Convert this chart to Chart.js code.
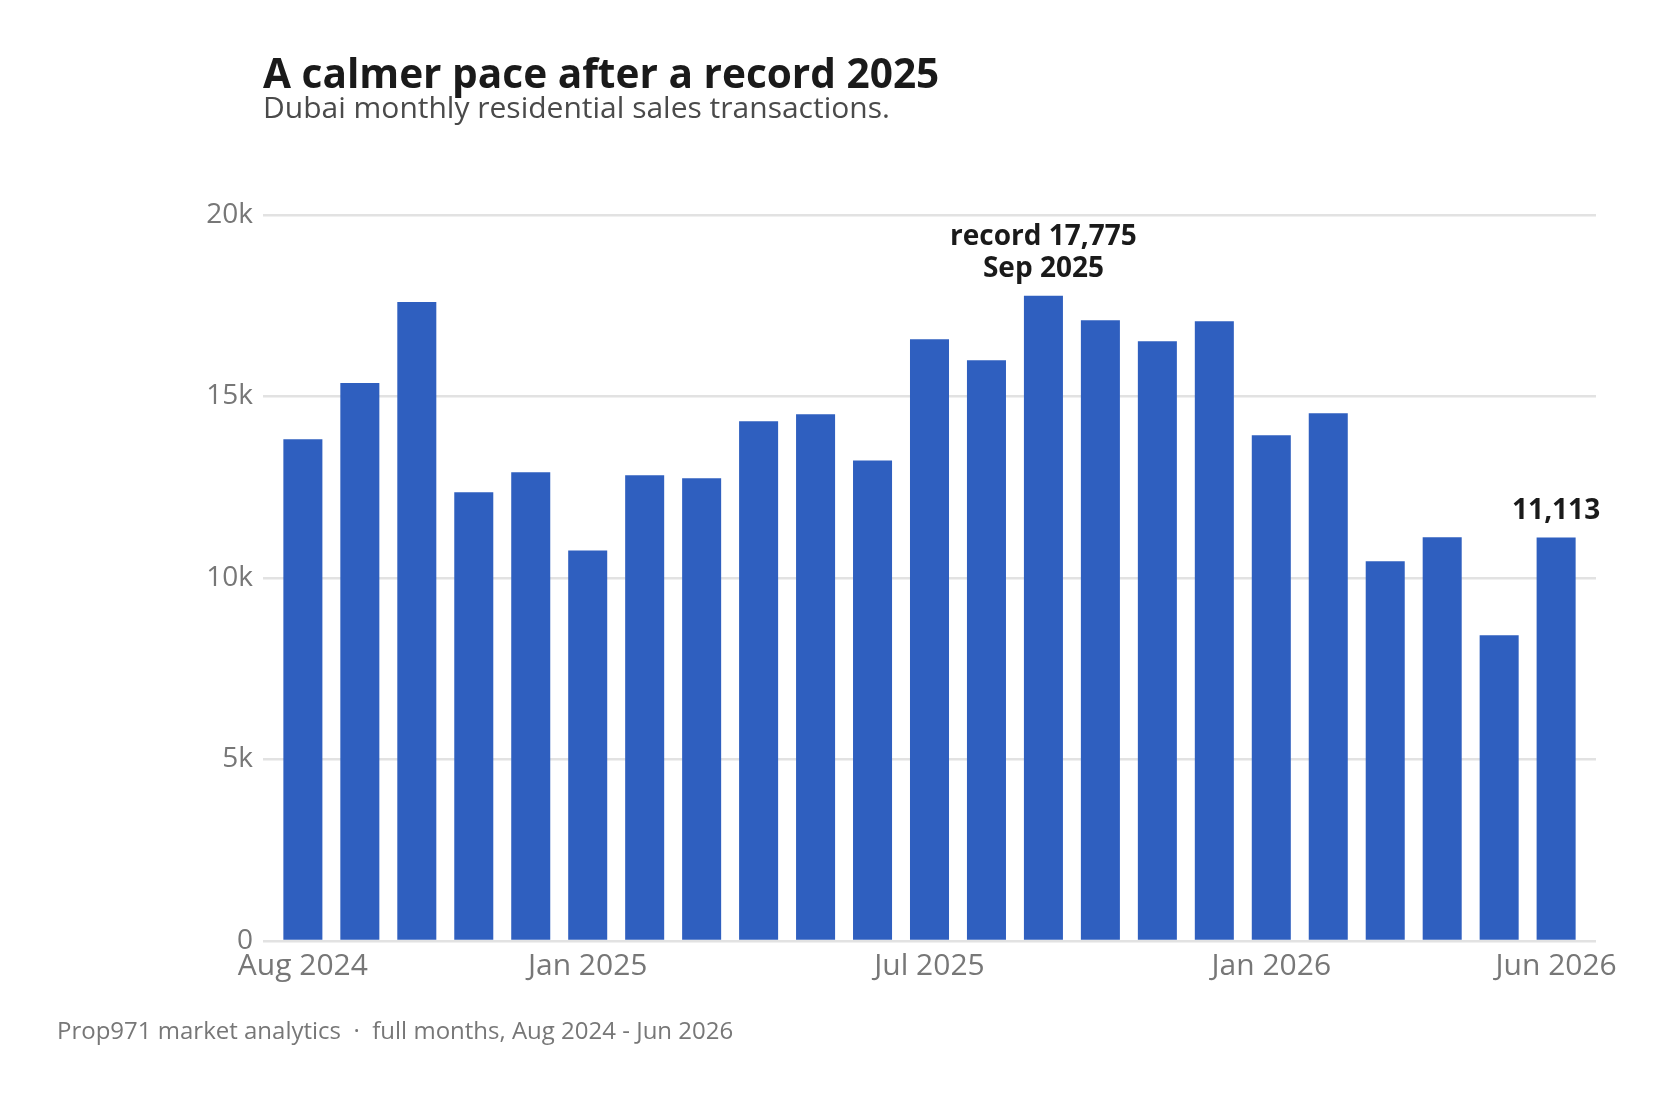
<!DOCTYPE html>
<html>
<head>
<meta charset="utf-8">
<script src="https://cdn.jsdelivr.net/npm/chart.js@4.4.1/dist/chart.umd.min.js"></script>
<style>
  html, body { margin: 0; padding: 0; background: #ffffff; }
  #wrap { width: 1671px; height: 1101px; position: relative; }
</style>
</head>
<body>
<div id="wrap"><canvas id="c" width="1671" height="1101"></canvas></div>
<script>
// ---- data ----
const months = ["Aug 2024","Sep 2024","Oct 2024","Nov 2024","Dec 2024","Jan 2025","Feb 2025","Mar 2025","Apr 2025","May 2025","Jun 2025","Jul 2025","Aug 2025","Sep 2025","Oct 2025","Nov 2025","Dec 2025","Jan 2026","Feb 2026","Mar 2026","Apr 2026","May 2026","Jun 2026"];
const transactions = [13820,15370,17600,12360,12910,10760,12830,12750,14320,14510,13240,16580,16000,17775,17100,16520,17070,13930,14540,10460,11120,8420,11113];
const xTickLabels = ["Aug 2024","Jan 2025","Jul 2025","Jan 2026","Jun 2026"];
const yTickValues = [0,5000,10000,15000,20000];
const titleText = "A calmer pace after a record 2025";
const subtitleText = "Dubai monthly residential sales transactions.";
const footerText = "Prop971 market analytics  \u00B7  full months, Aug 2024 - Jun 2026";
const recordIndex = 13;
const lastIndex = transactions.length - 1;

const FONT = "'Open Sans', 'Noto Sans', sans-serif";

const textPlugin = {
  id: 'texts',
  afterDraw(chart) {
    const ctx = chart.ctx;
    const ca = chart.chartArea;
    const xs = chart.scales.x, ys = chart.scales.y;
    ctx.save();
    ctx.textBaseline = 'alphabetic';
    ctx.textAlign = 'left';
    ctx.fillStyle = '#1a1a1a';
    ctx.font = "bold 40.6px " + FONT;
    ctx.fillText(titleText, ca.left, 88);
    ctx.fillStyle = '#4a4a4a';
    ctx.font = "30px " + FONT;
    ctx.fillText(subtitleText, ca.left, 118);
    ctx.fillStyle = '#777777';
    ctx.font = "24px " + FONT;
    ctx.fillText(footerText, 57, 1039);

    // annotations
    ctx.fillStyle = '#1a1a1a';
    ctx.font = "bold 28px " + FONT;
    ctx.textAlign = 'center';
    ctx.textBaseline = 'middle';
    const rx = xs.getPixelForValue(recordIndex);
    const ry = ys.getPixelForValue(transactions[recordIndex]);
    ctx.fillText("record " + transactions[recordIndex].toLocaleString('en-US'), rx, ry - 59);
    ctx.fillText(months[recordIndex], rx, ry - 27);
    const lx = xs.getPixelForValue(lastIndex);
    const ly = ys.getPixelForValue(transactions[lastIndex]);
    ctx.fillText(transactions[lastIndex].toLocaleString('en-US'), lx, ly - 27);
    ctx.restore();
  }
};

new Chart(document.getElementById('c'), {
  type: 'bar',
  data: {
    datasets: [{
      data: transactions.map((v, i) => ({ x: i, y: v })),
      backgroundColor: '#2f5fbf',
      borderWidth: 0,
      barPercentage: 0.685,
      categoryPercentage: 1.0
    }]
  },
  options: {
    responsive: false,
    animation: false,
    devicePixelRatio: 1,
    layout: { padding: { top: 215, right: 75, left: 0, bottom: 0 } },
    plugins: { legend: { display: false }, tooltip: { enabled: false }, title: { display: false } },
    scales: {
      x: {
        type: 'linear',
        min: -0.7,
        max: 22.7,
        offset: false,
        grid: { display: false, drawTicks: false },
        border: { display: false },
        afterBuildTicks: (scale) => {
          scale.ticks = xTickLabels.map(l => ({ value: months.indexOf(l) }));
        },
        afterFit: (scale) => { scale.height = 160; },
        ticks: {
          autoSkip: false,
          maxRotation: 0,
          padding: 7,
          color: '#777777',
          font: { family: FONT, size: 30 },
          callback: (v) => months[v]
        }
      },
      y: {
        min: 0,
        max: 20000,
        afterBuildTicks: (scale) => {
          scale.ticks = yTickValues.map(v => ({ value: v }));
        },
        afterFit: (scale) => { scale.width = 263; },
        grid: { color: '#e2e2e2', lineWidth: 2.5, drawTicks: false },
        border: { display: false },
        ticks: {
          padding: 10,
          color: '#777777',
          font: { family: FONT, size: 28 },
          callback: (v) => v === 0 ? '0' : (v / 1000) + 'k'
        }
      }
    }
  },
  plugins: [textPlugin]
});
</script>
</body>
</html>
